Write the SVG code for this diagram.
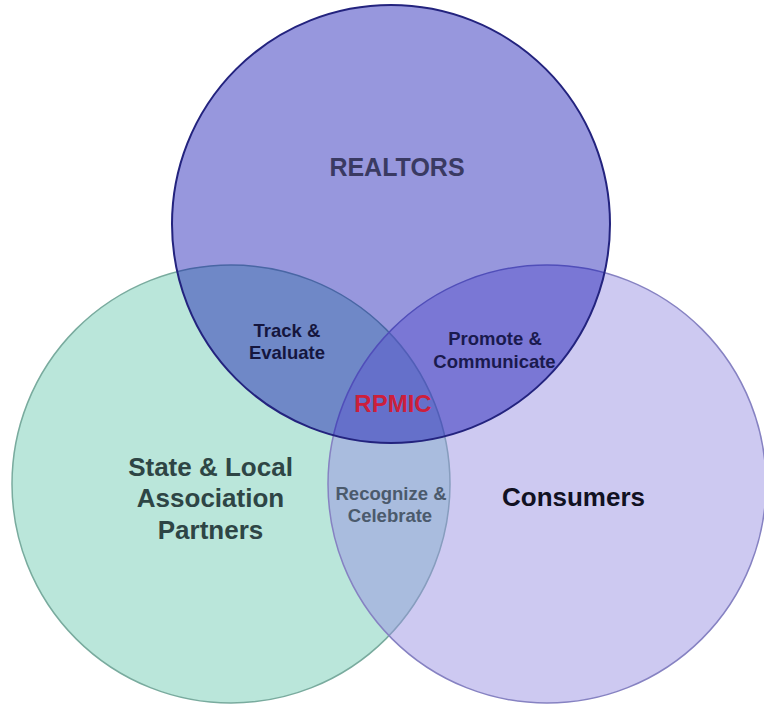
<svg xmlns="http://www.w3.org/2000/svg" width="764" height="704" viewBox="0 0 764 704">
  <style>
    text { font-family: "Liberation Sans", Arial, sans-serif; font-weight: bold; text-anchor: middle; }
    .set-left  { fill: #bae6da; stroke: #79ab9e; stroke-width: 1.5; }
    .set-right { fill: rgb(151,142,226); fill-opacity: 0.48; stroke: #8682c2; stroke-width: 1.5; }
    .set-top   { fill: rgb(7,7,174); fill-opacity: 0.42; stroke: #23237e; stroke-width: 2; }
    .big    { font-size: 26px; }
    .small  { font-size: 18.5px; }
  </style>

  <rect width="764" height="704" fill="#ffffff"/>

  <!-- State & Local Association Partners -->
  <g id="partners">
    <circle class="set-left" cx="231" cy="484" r="219"/>
    <text class="big" fill="#2e4545" x="210.5" y="476">State &amp; Local</text>
    <text class="big" fill="#2e4545" x="210.5" y="507">Association</text>
    <text class="big" fill="#2e4545" x="210.5" y="539">Partners</text>
  </g>

  <!-- Consumers -->
  <g id="consumers">
    <circle class="set-right" cx="547" cy="484" r="219"/>
    <text class="big" fill="#111122" x="573.5" y="506">Consumers</text>
  </g>

  <!-- REALTORS -->
  <g id="realtors">
    <circle class="set-top" cx="391" cy="224" r="219"/>
    <text fill="#3a3a62" font-size="25" x="397" y="176">REALTORS</text>
  </g>

  <!-- overlap labels -->
  <g id="track-evaluate">
    <text class="small" fill="#15163e" x="287" y="337">Track &amp;</text>
    <text class="small" fill="#15163e" x="287" y="359">Evaluate</text>
  </g>

  <g id="promote-communicate">
    <text class="small" fill="#1a1a4e" x="495" y="345">Promote &amp;</text>
    <text class="small" fill="#1a1a4e" x="494.5" y="368">Communicate</text>
  </g>

  <g id="recognize-celebrate">
    <text class="small" fill="#4b5a6c" x="391" y="500">Recognize &amp;</text>
    <text class="small" fill="#4b5a6c" x="390" y="522">Celebrate</text>
  </g>

  <g id="rpmic">
    <text fill="#cc1f3c" font-size="24" x="393" y="412">RPMIC</text>
  </g>
</svg>
